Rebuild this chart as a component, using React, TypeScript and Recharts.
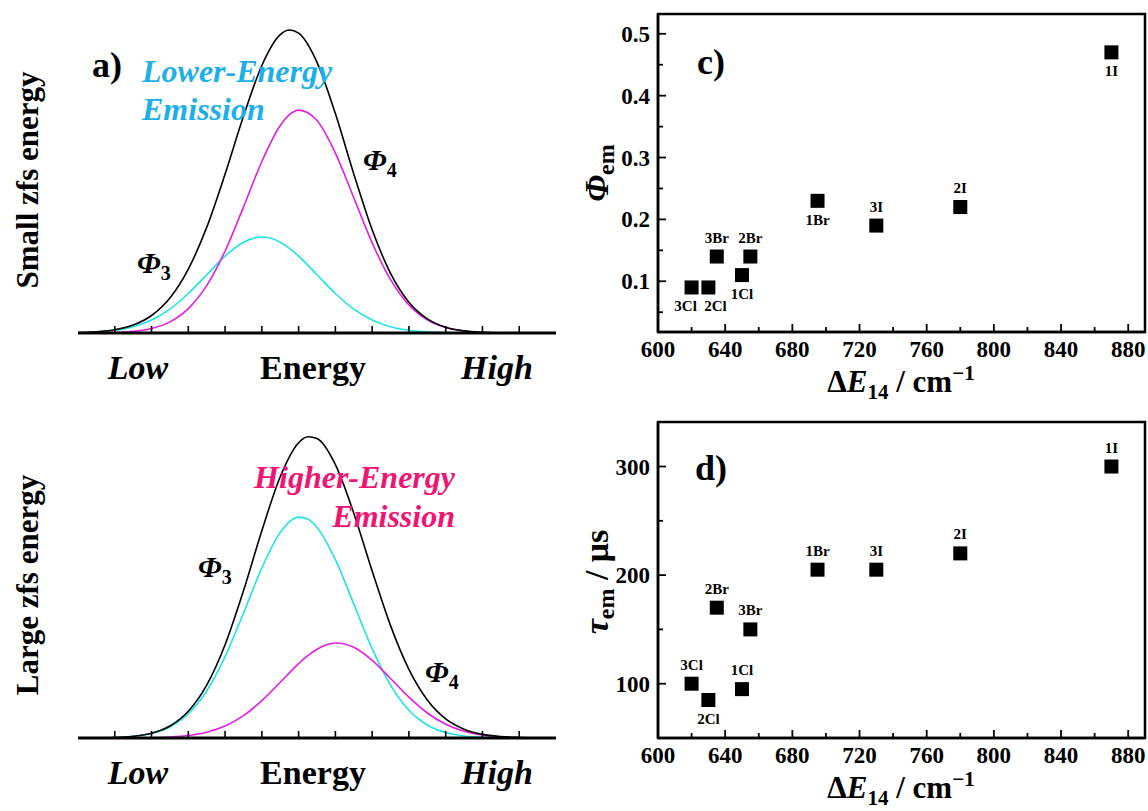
import React from 'react';
import { LineChart, Line, XAxis, YAxis, ScatterChart, Scatter, ReferenceArea } from 'recharts';

const FONT = '"Liberation Serif", "DejaVu Serif", "Times New Roman", Times, serif';

// ---------- panel a (small zfs energy) ----------
const gridA = [0, 0.5, 1, 1.5, 2, 2.5, 3, 3.5, 4, 4.5, 5, 5.5, 5.75, 6, 6.5, 7, 7.5, 8, 8.5, 9, 9.5, 10, 10.5, 11, 11.5, 12, 12.5, 13];
const smallCyan = [0.4, 1.1, 2.7, 6.3, 13.0, 23.9, 39.5, 58.2, 76.9, 90.8, 96.0, 90.8, 84.7, 76.9, 58.2, 39.5, 23.9, 13.0, 6.3, 2.7, 1.1, 0.4, 0.1, 0, 0, 0, 0, 0];
const smallMagenta = [0, 0.2, 0.5, 1.6, 4.5, 11.1, 24.4, 47.4, 82.0, 125.9, 171.5, 207.5, 218.3, 222.9, 212.5, 179.9, 135.2, 90.2, 53.4, 28.1, 13.1, 5.4, 2.0, 0.7, 0.2, 0.1, 0, 0];
const smallBlack = [0.4, 1.3, 3.2, 7.9, 17.5, 35.0, 63.9, 105.6, 158.9, 216.7, 267.5, 298.3, 303.0, 299.8, 270.7, 219.4, 159.1, 103.2, 59.7, 30.8, 14.2, 5.8, 2.1, 0.7, 0.2, 0.1, 0, 0];

// ---------- panel b (large zfs energy) ----------
const gridB = [0, 0.5, 1, 1.5, 2, 2.5, 3, 3.5, 4, 4.5, 5, 5.5, 6, 6.25, 6.5, 7, 7.5, 8, 8.5, 9, 9.5, 10, 10.5, 11, 11.5, 12, 12.5, 13];
const largeCyan = [0, 0.2, 0.5, 1.6, 4.5, 11.0, 24.2, 47.0, 81.3, 124.8, 170.0, 205.6, 220.9, 218.9, 210.6, 178.3, 134.0, 89.4, 52.9, 27.8, 13.0, 5.4, 2.0, 0.6, 0.2, 0.1, 0, 0];
const largeMagenta = [0, 0, 0, 0.1, 0.3, 1.0, 2.5, 5.8, 12.0, 22.4, 37.3, 55.7, 74.4, 82.4, 88.8, 95.0, 90.8, 77.7, 59.5, 40.8, 25.0, 13.7, 6.8, 3.0, 1.2, 0.4, 0.1, 0];
const largeBlack = [0, 0.2, 0.5, 1.7, 4.8, 12.0, 26.7, 52.8, 93.3, 147.2, 207.3, 261.3, 295.3, 301.3, 299.4, 273.3, 224.8, 167.1, 112.4, 68.6, 38.0, 19.1, 8.8, 3.6, 1.4, 0.5, 0.1, 0];

const energyTicks = [1, 2, 3, 4, 5, 6, 7, 8, 9, 10, 11, 12];

// ---------- panel c ----------
const cNames = ['3Cl', '2Cl', '1Cl', '3Br', '2Br', '1Br', '3I', '2I', '1I'];
const cDeltaE = [620, 630, 650, 635, 655, 695, 730, 780, 870];
const cPhi = [0.09, 0.09, 0.11, 0.14, 0.14, 0.23, 0.19, 0.22, 0.47];

// ---------- panel d ----------
const dNames = ['3Cl', '2Cl', '1Cl', '2Br', '3Br', '1Br', '3I', '2I', '1I'];
const dDeltaE = [620, 630, 650, 635, 655, 695, 730, 780, 870];
const dTau = [100, 85, 95, 170, 150, 205, 205, 220, 300];

const xMajor = [600, 640, 680, 720, 760, 800, 840, 880];
const xMajorLabels = ['600', '640', '680', '720', '760', '800', '840', '880'];
const xMinor = [620, 660, 700, 740, 780, 820, 860];
const cYMajor = [0.1, 0.2, 0.3, 0.4, 0.5];
const cYMajorLabels = ['0.1', '0.2', '0.3', '0.4', '0.5'];
const cYMinor = [0.05, 0.15, 0.25, 0.35, 0.45];
const dYMajor = [100, 200, 300];
const dYMajorLabels = ['100', '200', '300'];
const dYMinor = [150, 250];

// label placement (style, not data)
const cBelow = ['3Cl', '2Cl', '1Cl', '1Br', '1I'];
const cDx: Record<string, number> = { '3Cl': -6, '2Cl': 7 };
const dBelow = ['2Cl'];
const dDx: Record<string, number> = {};

const zipRows = (grid: number[], black: number[], cyan: number[], magenta: number[]) =>
  grid.map((u, i) => ({ u, black: black[i], cyan: cyan[i], magenta: magenta[i] }));
const zipPoints = (names: string[], xs: number[], ys: number[]) =>
  names.map((name, i) => ({ name, x: xs[i], y: ys[i] }));

const rowsA = zipRows(gridA, smallBlack, smallCyan, smallMagenta);
const rowsB = zipRows(gridB, largeBlack, largeCyan, largeMagenta);
const pointsC = zipPoints(cNames, cDeltaE, cPhi);
const pointsD = zipPoints(dNames, dDeltaE, dTau);

const CYAN = '#1EE3E6';
const MAGENTA = '#E31EE3';
const TXT = { fontFamily: FONT, fontWeight: 700 } as const;

const energyTick = (props: any) => {
  const { x, y } = props;
  return <line x1={x} x2={x} y1={y} y2={y - 7} stroke="#000" strokeWidth={1.6} />;
};

const makeXTick = (major: number[], labels: string[]) => (props: any) => {
  const { x, y, payload } = props;
  const mi = major.indexOf(payload.value);
  const len = mi >= 0 ? 8 : 5;
  return (
    <g>
      <line x1={x} x2={x} y1={y} y2={y - len} stroke="#000" strokeWidth={1.8} />
      {mi >= 0 && (
        <text x={x} y={y + 25} textAnchor="middle" style={{ ...TXT, fontSize: 23 }} fill="#000">
          {labels[mi]}
        </text>
      )}
    </g>
  );
};

const makeYTick = (major: number[], labels: string[]) => (props: any) => {
  const { x, y, payload } = props;
  const mi = major.indexOf(payload.value);
  const len = mi >= 0 ? 8 : 5;
  return (
    <g>
      <line x1={x} x2={x + len} y1={y} y2={y} stroke="#000" strokeWidth={1.8} />
      {mi >= 0 && (
        <text x={x - 8} y={y + 8} textAnchor="end" style={{ ...TXT, fontSize: 23 }} fill="#000">
          {labels[mi]}
        </text>
      )}
    </g>
  );
};

const makeSquare = (below: string[], dx: Record<string, number>) => (props: any) => {
  const { cx, cy, payload } = props;
  const isBelow = below.includes(payload.name);
  return (
    <g>
      <rect x={cx - 7} y={cy - 7} width={14} height={14} fill="#000" />
      <text
        x={cx + (dx[payload.name] || 0)}
        y={isBelow ? cy + 24 : cy - 14}
        textAnchor="middle"
        style={{ ...TXT, fontSize: 15 }}
        fill="#000"
      >
        {payload.name}
      </text>
    </g>
  );
};

const EnergyPanel = ({ rows }: { rows: any[] }) => (
  <LineChart width={570} height={400} data={rows} margin={{ top: 13, right: 14, bottom: 37, left: 78 }}>
    <XAxis
      dataKey="u"
      type="number"
      domain={[0, 13]}
      ticks={energyTicks}
      interval={0}
      allowDataOverflow
      height={30}
      tickSize={0}
      tickMargin={0}
      tickLine={false}
      tick={energyTick}
      axisLine={{ stroke: '#000', strokeWidth: 3 }}
    />
    <YAxis hide width={0} type="number" domain={[0, 320]} allowDataOverflow />
    <Line type="monotone" dataKey="cyan" stroke={CYAN} strokeWidth={1.6} dot={false} isAnimationActive={false} />
    <Line type="monotone" dataKey="magenta" stroke={MAGENTA} strokeWidth={1.6} dot={false} isAnimationActive={false} />
    <Line type="monotone" dataKey="black" stroke="#000" strokeWidth={1.6} dot={false} isAnimationActive={false} />
  </LineChart>
);

const ScatterPanel = ({
  points,
  yDomain,
  yMajor,
  yLabels,
  yMinor,
  below,
  dx,
  height,
  marginTop,
  marginBottom,
}: any) => (
  <ScatterChart width={568} height={height} margin={{ top: marginTop, right: 3, bottom: marginBottom, left: 18 }}>
    <XAxis
      dataKey="x"
      type="number"
      domain={[600, 890]}
      allowDataOverflow
      ticks={[...xMajor, ...xMinor].sort((a, b) => a - b)}
      interval={0}
      height={30}
      tickSize={0}
      tickMargin={0}
      tickLine={false}
      tick={makeXTick(xMajor, xMajorLabels)}
      axisLine={{ stroke: '#000', strokeWidth: 2.5 }}
    />
    <YAxis
      dataKey="y"
      type="number"
      domain={yDomain}
      allowDataOverflow
      ticks={[...yMajor, ...yMinor].sort((a: number, b: number) => a - b)}
      interval={0}
      width={60}
      tickSize={0}
      tickMargin={0}
      tickLine={false}
      tick={makeYTick(yMajor, yLabels)}
      axisLine={{ stroke: '#000', strokeWidth: 2.5 }}
    />
    <ReferenceArea
      x1={600}
      x2={890}
      y1={yDomain[0]}
      y2={yDomain[1]}
      fill="none"
      stroke="#000"
      strokeWidth={2.5}
      ifOverflow="visible"
    />
    <Scatter data={points} shape={makeSquare(below, dx)} isAnimationActive={false} />
  </ScatterChart>
);

const Phi = ({ x, y, sub, size = 30 }: { x: number; y: number; sub: string; size?: number }) => (
  <text x={x} y={y} style={TXT} fill="#000">
    <tspan fontStyle="italic" fontSize={size}>Φ</tspan>
    <tspan fontSize={20} dy={7}>{sub}</tspan>
  </text>
);

const T = ({ x, y, size, italic, anchor, color, children, rotate }: any) => (
  <text
    x={x}
    y={y}
    textAnchor={anchor || 'start'}
    transform={rotate ? `rotate(-90 ${x} ${y})` : undefined}
    style={{ ...TXT, fontSize: size, fontStyle: italic ? 'italic' : 'normal' }}
    fill={color || '#000'}
  >
    {children}
  </text>
);

const DeltaE = ({ x, y }: { x: number; y: number }) => (
  <text x={x} y={y} textAnchor="middle" style={{ ...TXT, fontSize: 31 }} fill="#000">
    <tspan>Δ</tspan>
    <tspan fontStyle="italic">E</tspan>
    <tspan fontSize={21} dy={7}>14</tspan>
    <tspan dy={-7}> / cm</tspan>
    <tspan fontSize={21} dy={-12}>−1</tspan>
  </text>
);

const Overlay = () => (
  <svg width={1148} height={811} style={{ position: 'absolute', left: 0, top: 0, pointerEvents: 'none' }}>
    {/* panel a */}
    <T x={92} y={77} size={36}>a)</T>
    <T x={142} y={82} size={32} italic color="#1EAFE6">Lower-Energy</T>
    <T x={142} y={120} size={32} italic color="#1EAFE6">Emission</T>
    <Phi x={137} y={273} sub="3" />
    <Phi x={363} y={170} sub="4" />
    <T x={38} y={180} size={31} anchor="middle" rotate>Small zfs energy</T>
    <T x={138} y={379} size={34} italic anchor="middle">Low</T>
    <T x={313} y={379} size={34} anchor="middle">Energy</T>
    <T x={497} y={379} size={34} italic anchor="middle">High</T>

    {/* panel b */}
    <T x={455} y={488} size={32} italic anchor="end" color="#EE1573">Higher-Energy</T>
    <T x={455} y={527} size={32} italic anchor="end" color="#EE1573">Emission</T>
    <Phi x={198} y={577} sub="3" />
    <Phi x={425} y={682} sub="4" />
    <T x={38} y={585} size={31} anchor="middle" rotate>Large zfs energy</T>
    <T x={138} y={784} size={34} italic anchor="middle">Low</T>
    <T x={313} y={784} size={34} anchor="middle">Energy</T>
    <T x={497} y={784} size={34} italic anchor="middle">High</T>

    {/* panel c */}
    <T x={697} y={74} size={36}>c)</T>
    <text x={608} y={173} transform="rotate(-90 608 173)" textAnchor="middle" style={TXT} fill="#000">
      <tspan fontStyle="italic" fontSize={34}>Φ</tspan>
      <tspan fontSize={24} dy={6}>em</tspan>
    </text>
    <DeltaE x={901} y={392} />

    {/* panel d */}
    <T x={695} y={480} size={36}>d)</T>
    <text x={608} y={582} transform="rotate(-90 608 582)" textAnchor="middle" style={{ ...TXT, fontSize: 34 }} fill="#000">
      <tspan fontStyle="italic">τ</tspan>
      <tspan fontSize={24} dy={6}>em</tspan>
      <tspan dy={-6}> / μs</tspan>
    </text>
    <DeltaE x={901} y={798} />
  </svg>
);

export default function App() {
  return (
    <div
      style={{
        position: 'absolute',
        left: 0,
        top: 0,
        width: 1148,
        height: 811,
        background: '#fff',
        overflow: 'hidden',
        fontFamily: FONT,
      }}
    >
      <div style={{ position: 'absolute', left: 0, top: 0 }}>
        <EnergyPanel rows={rowsA} />
      </div>
      <div style={{ position: 'absolute', left: 0, top: 405 }}>
        <EnergyPanel rows={rowsB} />
      </div>
      <div style={{ position: 'absolute', left: 580, top: 0 }}>
        <ScatterPanel
          points={pointsC}
          yDomain={[0.018, 0.532]}
          yMajor={cYMajor}
          yLabels={cYMajorLabels}
          yMinor={cYMinor}
          below={cBelow}
          dx={cDx}
          height={400}
          marginTop={14}
          marginBottom={38}
        />
      </div>
      <div style={{ position: 'absolute', left: 580, top: 405 }}>
        <ScatterPanel
          points={pointsD}
          yDomain={[50, 341]}
          yMajor={dYMajor}
          yLabels={dYMajorLabels}
          yMinor={dYMinor}
          below={dBelow}
          dx={dDx}
          height={406}
          marginTop={17}
          marginBottom={43}
        />
      </div>
      <Overlay />
    </div>
  );
}
